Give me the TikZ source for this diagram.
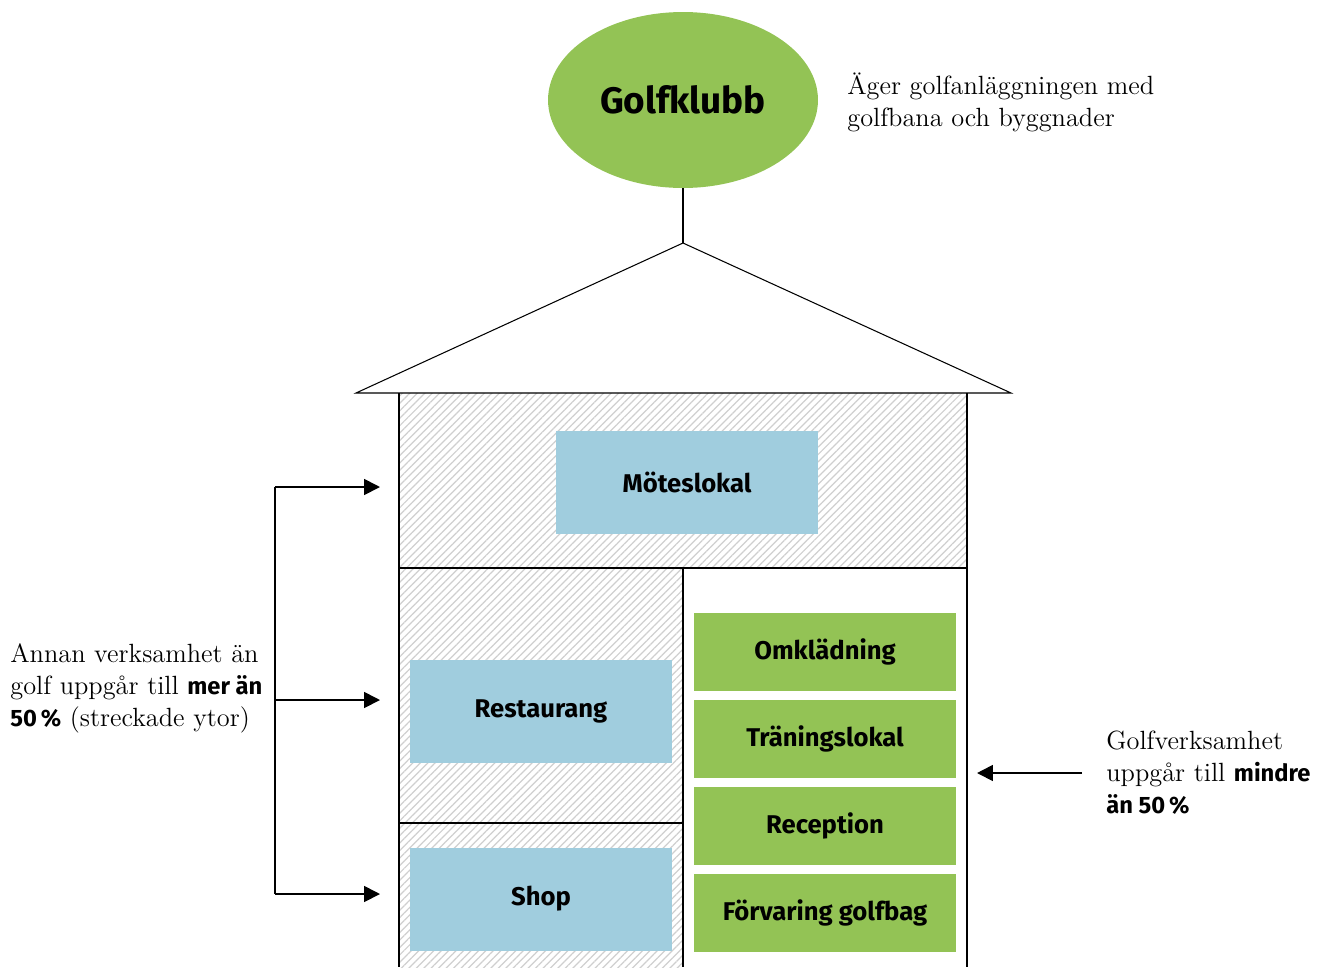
\documentclass[tikz,border=0pt]{standalone}
\usepackage{fontspec}
\newfontfamily\labelfont{Fira Sans}
\newfontfamily\notefont{lmroman12-regular.otf}
\newcommand{\notebold}[1]{{\labelfont\bfseries\fontsize{13.5}{18.2}\selectfont #1}}
\usetikzlibrary{positioning}
\usetikzlibrary{shapes.geometric,arrows.meta,patterns.meta}
\definecolor{golfgreen}{HTML}{93C355}
\definecolor{roomblue}{HTML}{A0CDDE}
\definecolor{hatchgray}{HTML}{CFCFCF}

\begin{document}
\begin{tikzpicture}[x=0.02cm, y=-0.02cm,
    room/.style={rectangle, fill=roomblue, minimum width=5.24cm, minimum height=2.06cm, font=\labelfont\bfseries\fontsize{14.6}{16}\selectfont},
    golfroom/.style={rectangle, fill=golfgreen, minimum width=5.24cm, minimum height=1.56cm, font=\labelfont\bfseries\fontsize{14.6}{16}\selectfont},
    hatched/.style={pattern={Lines[angle=45, distance=3pt, line width=0.7pt]}, pattern color=hatchgray},
    note/.style={anchor=west, align=left, inner sep=0pt, font=\notefont\fontsize{15}{18.2}\selectfont},
    pointer/.style={-{Triangle[length=9pt, width=9pt]}, line width=1pt}]
    \useasboundingbox (0,0) rectangle (1317,967);

    % owner
    \node [ellipse, fill=golfgreen, minimum width=5.4cm, minimum height=3.52cm, font=\labelfont\bfseries\fontsize{21}{24}\selectfont] (club) at (683,100) {Golfklubb};
    \node [note] (ownernote) at (847,102) {Äger golfanläggningen med\\golfbana och byggnader};
    \coordinate (apex) at (683,243);
    \draw [line width=0.6pt] (club) -- (apex);

    % hatched areas
    \path [hatched] (399,393) rectangle (967,568);
    \path [hatched] (399,568) rectangle (683,823);
    \path [hatched] (399,823) rectangle (683,967);

    % house
    \draw [line width=0.6pt] (356,393) -- (apex) -- (1011,393) -- cycle;
    \draw [line width=0.9pt] (399,393) -- (399,967);
    \draw [line width=0.9pt] (967,393) -- (967,967);
    \draw [line width=1.6pt] (399,568) -- (967,568);
    \draw [line width=1.6pt] (399,823) -- (683,823);
    \draw [line width=0.9pt] (683,568) -- (683,967);

    % rooms
    \node [room] (meeting) at (687,482) {Möteslokal};
    \node [room] (restaurant) at (541,711) {Restaurang};
    \node [room] (shop) at (541,899) {Shop};
    \node [golfroom] (changing) at (825,652) {Omklädning};
    \node [golfroom] (training) at (825,739) {Träningslokal};
    \node [golfroom] (reception) at (825,826) {Reception};
    \node [golfroom] (storage) at (825,913) {Förvaring golfbag};

    % other business
    \node [note] (othernote) at (10,688) {Annan verksamhet än\\golf uppgår till \notebold{mer än}\\\notebold{50\,\%} (streckade ytor)};
    \coordinate (brtop) at (275,487);
    \coordinate (brmid) at (275,700);
    \coordinate (brbot) at (275,894);
    \coordinate (intop) at (380,487);
    \coordinate (inmid) at (380,700);
    \coordinate (inbot) at (380,894);
    \draw [line width=1pt] (brtop) -- (brbot);
    \draw [pointer] (brtop) -- (intop);
    \draw [pointer] (brmid) -- (inmid);
    \draw [pointer] (brbot) -- (inbot);

    % golf business
    \node [note] (golfnote) at (1106,773) {Golfverksamhet\\uppgår till \notebold{mindre}\\\notebold{än 50\,\%}};
    \coordinate (golfstart) at (1082,773);
    \coordinate (golfend) at (977,773);
    \draw [pointer] (golfstart) -- (golfend);
\end{tikzpicture}
\end{document}
